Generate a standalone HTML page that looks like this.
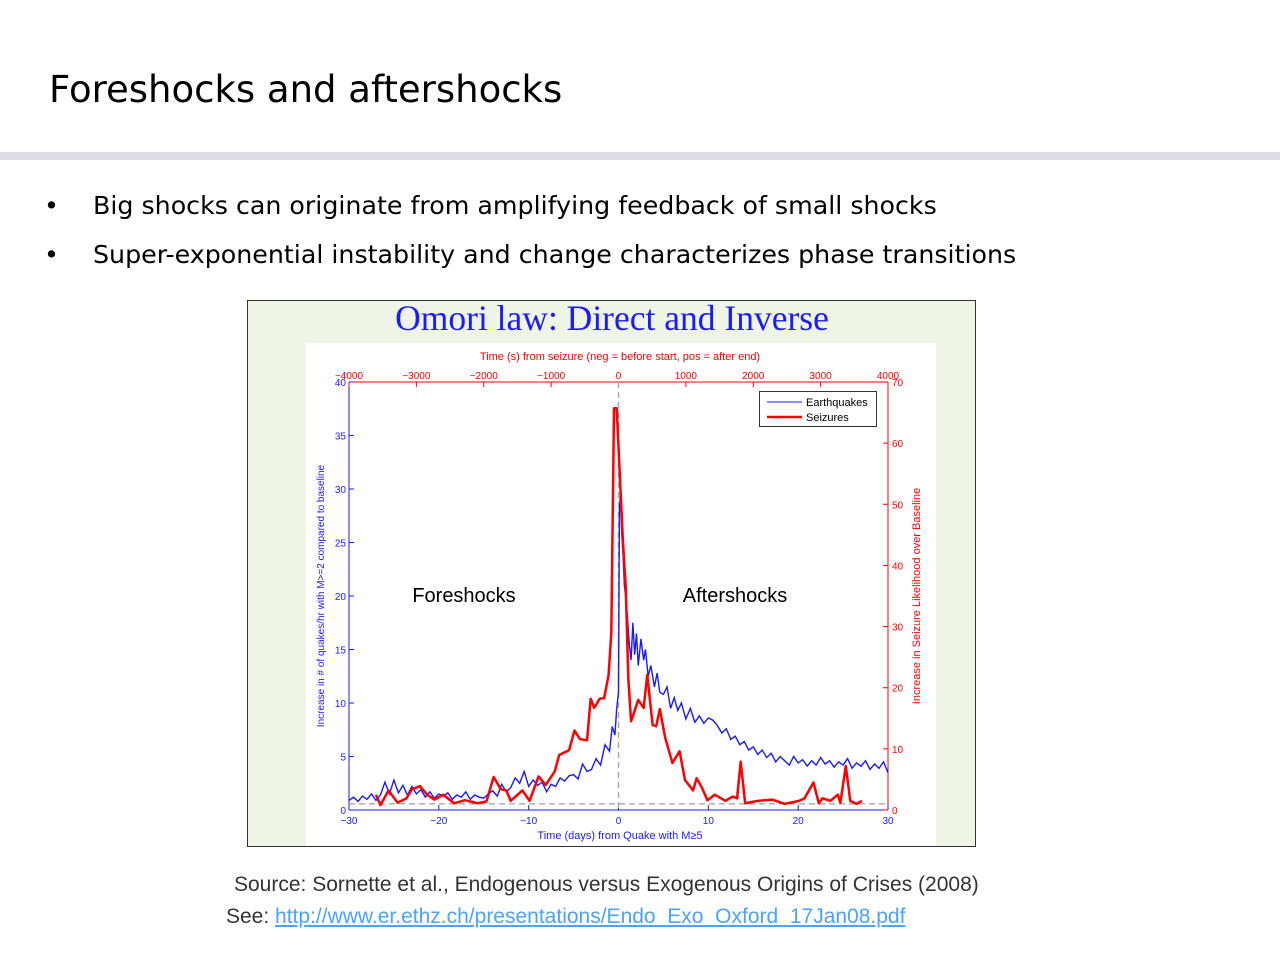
<!DOCTYPE html>
<html><head><meta charset="utf-8">
<style>
body{margin:0;width:1280px;height:960px;background:#fff;position:relative;overflow:hidden;font-family:"DejaVu Sans","Liberation Sans",sans-serif;}
.title{position:absolute;left:49px;top:68px;font-size:37px;color:#000;}
.bar{position:absolute;left:0;top:152px;width:1280px;height:8px;background:#dcdce6;}
.bul{position:absolute;left:44px;font-size:25.3px;color:#000;}
.bul span{position:absolute;left:49px;white-space:nowrap;}
.src{position:absolute;font-family:"Liberation Sans",sans-serif;font-size:21px;color:#333;white-space:nowrap;}
a{color:#4aa3ff;}
</style></head><body>
<div class="title">Foreshocks and aftershocks</div>
<div class="bar"></div>
<div class="bul" style="top:191px">•<span>Big shocks can originate from amplifying feedback of small shocks</span></div>
<div class="bul" style="top:240px">•<span>Super-exponential instability and change characterizes phase transitions</span></div>
<svg id="chart" style="position:absolute;left:0;top:0" width="1280" height="960" font-family="Liberation Sans, sans-serif">
<rect x="247.5" y="300.5" width="728" height="546" fill="#eef4e6" stroke="#333"/>
<rect x="306" y="343" width="630" height="503" fill="#fff"/>
<text x="612" y="330" text-anchor="middle" font-family="Liberation Serif, serif" font-size="35.5" fill="#1a1aff">Omori law: Direct and Inverse</text>
<text x="620" y="360" text-anchor="middle" font-size="11" fill="#f00">Time (s) from seizure (neg = before start, pos = after end)</text>
<text x="620" y="839" text-anchor="middle" font-size="11" fill="#1a1aff">Time (days) from Quake with M≥5</text>
<text transform="translate(324,596) rotate(-90)" text-anchor="middle" font-size="10" fill="#1a1aff">Increase in # of quakes/hr with M&gt;=2 compared to baseline</text>
<text transform="translate(920,596) rotate(-90)" text-anchor="middle" font-size="11" fill="#f00">Increase in Seizure Likelihood over Baseline</text>
<g id="axes"></g>
<g id="marks"></g>
<text x="464" y="602" text-anchor="middle" font-size="20" fill="#000">Foreshocks</text>
<text x="735" y="602" text-anchor="middle" font-size="20" fill="#000">Aftershocks</text>
<g>
<rect x="759.5" y="391.5" width="117" height="35" fill="#fff" stroke="#333"/>
<line x1="767" y1="402" x2="802" y2="402" stroke="#1a1aff" stroke-width="1"/>
<text x="806" y="406" font-size="11" fill="#000">Earthquakes</text>
<line x1="767" y1="417" x2="802" y2="417" stroke="#f00" stroke-width="2.5"/>
<text x="806" y="421" font-size="11" fill="#000">Seizures</text>
</g>
</svg>
<div class="src" style="left:234px;top:873px">Source: Sornette et al., Endogenous versus Exogenous Origins of Crises (2008)</div>
<div class="src" style="left:226px;top:905px">See: <a href="#">http://www.er.ethz.ch/presentations/Endo_Exo_Oxford_17Jan08.pdf</a></div>
<script>
const xTicks=[-30,-20,-10,0,10,20,30];
const leftTicks=[0,5,10,15,20,25,30,35,40];
const rightTicks=[0,10,20,30,40,50,60,70];
const topTicks=[-4000,-3000,-2000,-1000,0,1000,2000,3000,4000];
const seizDays=[-27,-26.5,-25.6,-24.6,-23.6,-23,-22.1,-21.3,-20.5,-19.5,-18.3,-17.1,-15.7,-14.7,-13.9,-13.1,-12.5,-12,-10.7,-9.9,-8.9,-8.1,-7.1,-6.6,-5.5,-4.9,-4.3,-3.5,-3.1,-2.7,-2.1,-1.6,-1.1,-0.8,-0.5,-0.2,0.5,0.8,1.1,1.4,2.2,2.8,3.2,3.8,4.2,4.6,5.2,6,6.8,7.4,8.3,8.7,9.3,9.9,10.7,11.9,12.7,13.2,13.6,14.1,15.5,17.1,18.5,20.1,20.7,21.7,22.3,22.7,23.6,24.4,24.7,25.3,25.8,26.5,27.1];
const seizVals=[2.5,0.8,3.2,1.2,1.9,3.4,3.9,2.5,1.7,2.5,1.1,1.6,1.1,1.4,5.4,3.4,3.2,1.5,3.2,1.5,5.5,4.1,6.3,9,9.8,13,11.6,11.4,18.2,16.7,18.2,18.3,22.1,29,65.7,65.7,43.7,36.6,21.3,14.5,18,16.7,22.1,13.9,13.7,16.5,11.8,7.7,9.6,4.9,3.2,5.2,3.6,1.6,2.5,1.5,2.2,1.9,7.9,1.1,1.5,1.7,1,1.5,1.9,4.5,1.1,1.9,1.5,2.5,1.2,7.2,1.5,1,1.5];
const quakeDays=[-30,-29.5,-29,-28.5,-28,-27.5,-27,-26.5,-26,-25.5,-25,-24.5,-24,-23.5,-23,-22.5,-22,-21.5,-21,-20.5,-20,-19.5,-19,-18.5,-18,-17.5,-17,-16.5,-16,-15.5,-15,-14.5,-14,-13.5,-13,-12.5,-12,-11.5,-11,-10.5,-10,-9.5,-9,-8.5,-8,-7.5,-7,-6.5,-6,-5.5,-5,-4.5,-4,-3.5,-3,-2.5,-2,-1.5,-1,-0.7,-0.4,-0.2,0,0.1,0.2,0.35,0.5,0.65,0.8,1,1.2,1.4,1.6,1.8,2,2.2,2.5,2.8,3,3.3,3.6,4,4.3,4.6,5,5.4,5.8,6.2,6.6,7,7.5,8,8.5,9,9.5,10,10.5,11,11.5,12,12.5,13,13.5,14,14.5,15,15.5,16,16.5,17,17.5,18,18.5,19,19.5,20,20.5,21,21.5,22,22.5,23,23.5,24,24.5,25,25.5,26,26.5,27,27.5,28,28.5,29,29.5,30];
const quakeVals=[0.9,1.2,0.8,1.3,1,1.5,0.9,1.4,2.6,1.5,2.8,1.6,2.3,1.4,2.2,1.5,1.9,1.2,1.7,1.1,1.5,1.3,1.6,1,1.4,1.2,1.7,1,1.4,1.2,1.1,1.5,1.8,1.3,2.4,1.7,2.1,3,2.5,3.6,2.2,2.8,2.3,2.6,1.7,2.4,2.2,3,2.7,3.2,3.3,2.9,4.3,3.6,3.8,4.8,4.2,6.1,5.5,7.8,7,9.5,11,28,29.5,26,24,21,20,18,15.5,14,17.5,14.5,16.5,13.5,16,14,15,12.5,13.5,11.5,12.8,11,10.8,11.5,9.5,10.5,9.3,10,8.5,9.5,8.2,8.8,8.1,8.6,8.4,7.9,7.2,7.6,6.6,6.9,6.1,6.4,5.6,5.9,5.2,5.6,4.9,5.3,4.5,5,4.6,4.2,5,4.4,4.7,4.1,4.6,4.2,4.9,4.3,4.6,4,4.5,4.2,4.8,3.9,4.4,4.1,4.6,3.8,4.3,3.9,4.5,3.5,4,2.6];
const X0=349,X1=888,Y0=810,Y1=382;
const ns='http://www.w3.org/2000/svg';
function xs(d){return X0+(d+30)/60*(X1-X0);}
function xt(s){return X0+(s+4000)/8000*(X1-X0);}
function yl(v){return Y0-v/40*(Y0-Y1);}
function yr(v){return Y0-v/70*(Y0-Y1);}
function mk(tag,at,parent){const e=document.createElementNS(ns,tag);for(const k in at)e.setAttribute(k,at[k]);parent.appendChild(e);return e;}
const ax=document.getElementById('axes'),mg=document.getElementById('marks');
const pa=mk('rect',{x:X0,y:Y1,width:X1-X0,height:Y0-Y1,fill:'none'},ax);


let l=mk('line',{x1:X0,y1:Y0,x2:X1,y2:Y0,stroke:'#1a1aff'},ax);


l=mk('line',{x1:X0,y1:Y0,x2:X0,y2:Y1,stroke:'#1a1aff'},ax);


l=mk('line',{x1:X0,y1:Y1,x2:X1,y2:Y1,stroke:'#f00'},ax);


l=mk('line',{x1:X1,y1:Y0,x2:X1,y2:Y1,stroke:'#f00'},ax);


xTicks.forEach(t=>{const x=xs(t);mk('line',{x1:x,y1:Y0,x2:x,y2:Y0-5,stroke:'#1a1aff'},ax);
const e=mk('text',{x:x,y:Y0+14,'text-anchor':'middle','font-size':10,fill:'#1a1aff'},ax);e.textContent=t<0?'\u2212'+(-t):t;

});
leftTicks.forEach(t=>{const y=yl(t);mk('line',{x1:X0,y1:y,x2:X0+5,y2:y,stroke:'#1a1aff'},ax);
const e=mk('text',{x:X0-3,y:y+4,'text-anchor':'end','font-size':10,fill:'#1a1aff'},ax);e.textContent=t;

});
rightTicks.forEach(t=>{const y=yr(t);mk('line',{x1:X1,y1:y,x2:X1-5,y2:y,stroke:'#f00'},ax);
const e=mk('text',{x:X1+4,y:y+4,'font-size':10,fill:'#f00'},ax);e.textContent=t;

});
topTicks.forEach(t=>{const x=xt(t);mk('line',{x1:x,y1:Y1,x2:x,y2:Y1+5,stroke:'#f00'},ax);
const e=mk('text',{x:x,y:Y1-3,'text-anchor':'middle','font-size':10,fill:'#f00'},ax);e.textContent=t<0?'\u2212'+(-t):t;

});
l=mk('line',{x1:xs(0),y1:Y1,x2:xs(0),y2:Y0,stroke:'#aaa','stroke-dasharray':'6,4','stroke-width':1.5},mg);


l=mk('line',{x1:X0,y1:yr(1),x2:X1,y2:yr(1),stroke:'#888','stroke-dasharray':'6,4'},mg);


let p=mk('polyline',{points:quakeDays.map((d,i)=>xs(d)+','+yl(quakeVals[i])).join(' '),fill:'none',stroke:'#1a1aff','stroke-width':1.4},mg);


p=mk('polyline',{points:seizDays.map((d,i)=>xs(d)+','+yr(seizVals[i])).join(' '),fill:'none',stroke:'#f00','stroke-width':2.5,'stroke-linejoin':'round'},mg);


</script>
</body></html>
